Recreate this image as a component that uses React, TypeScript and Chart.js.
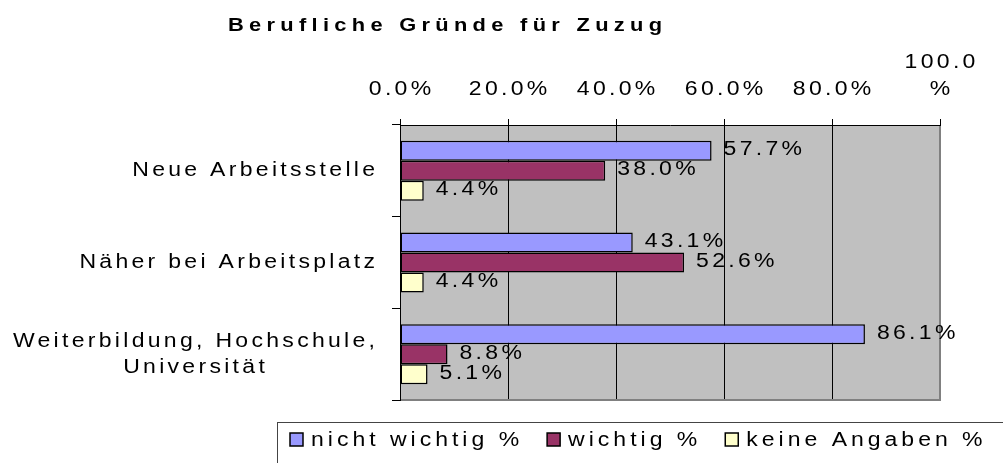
import React, { useEffect, useRef } from 'react';
import { Chart, registerables } from 'chart.js';

Chart.register(...registerables);

const title = 'Berufliche Gründe für Zuzug';
const categories = ['Neue Arbeitsstelle', 'Näher bei Arbeitsplatz', 'Weiterbildung, Hochschule,\nUniversität'];
const seriesNames = ['nicht wichtig %', 'wichtig %', 'keine Angaben %'];
const nichtWichtig = [57.7, 43.1, 86.1];
const wichtig = [38.0, 52.6, 8.8];
const keineAngaben = [4.4, 4.4, 5.1];
const seriesColors = ['#9999FF', '#993366', '#FFFFCC'];
const xTickLabels = ['0.0%', '20.0%', '40.0%', '60.0%', '80.0%', '100.0\n%'];
const xMin = 0;
const xMax = 100;
const xStep = 20;

const FONT = "'Liberation Sans', Arial, Helvetica, sans-serif";
const FS = 20;
const LS = 3.3;
const SX = 1.15;

function drawText(
  ctx: CanvasRenderingContext2D,
  text: string,
  x: number,
  y: number,
  align: 'left' | 'center' | 'right',
  font: string,
  ls: number,
  sx: number = SX
): number {
  ctx.save();
  ctx.font = font;
  (ctx as any).letterSpacing = ls / sx + 'px';
  const w = ctx.measureText(text).width;
  const vis = (w - ls / sx) * sx;
  let left = x;
  if (align === 'center') left = x - vis / 2;
  else if (align === 'right') left = x - vis;
  ctx.translate(left, y);
  ctx.scale(sx, 1);
  ctx.textAlign = 'left';
  ctx.textBaseline = 'middle';
  ctx.fillStyle = '#000';
  ctx.fillText(text, 0, 0);
  ctx.restore();
  return vis;
}

export default function App() {
  const ref = useRef<HTMLCanvasElement>(null);

  useEffect(() => {
    document.body.style.margin = '0';
    const canvas = ref.current!;
    const font = `${FS}px ${FONT}`;

    const background = {
      id: 'bg',
      beforeDraw(c: any) {
        const { ctx, chartArea: a } = c;
        ctx.save();
        ctx.fillStyle = '#C0C0C0';
        ctx.fillRect(a.left, a.top, a.right - a.left, a.bottom - a.top);
        ctx.restore();
      },
    };

    const frame = {
      id: 'frame',
      beforeDatasetsDraw(c: any) {
        const { ctx, chartArea: a } = c;
        ctx.save();
        ctx.strokeStyle = '#808080';
        ctx.lineWidth = 2;
        ctx.beginPath();
        ctx.moveTo(a.right, a.top + 1);
        ctx.lineTo(a.right, a.bottom);
        ctx.lineTo(a.left + 1, a.bottom);
        ctx.stroke();
        ctx.restore();
      },
    };

    const dataLabels = {
      id: 'dataLabels',
      afterDatasetsDraw(c: any) {
        const ctx = c.ctx;
        c.data.datasets.forEach((ds: any, di: number) => {
          const meta = c.getDatasetMeta(di);
          meta.data.forEach((el: any, i: number) => {
            const v = ds.data[i] as number;
            drawText(ctx, v.toFixed(1) + '%', el.x + 12, el.y - 1, 'left', font, LS);
          });
        });
      },
    };

    const extras = {
      id: 'extras',
      afterDraw(c: any) {
        const ctx = c.ctx;
        const yScale = c.scales.y;
        const xScale = c.scales.x;

        // title
        drawText(ctx, title, 445, 26, 'center', `bold 19px ${FONT}`, 5.3);

        // x tick labels
        xScale.ticks.forEach((t: any) => {
          const i = Math.round((Number(t.value) - xMin) / xStep);
          const s = xTickLabels[i];
          if (s === undefined) return;
          const px = xScale.getPixelForValue(t.value);
          const lines = s.split('\n');
          lines.forEach((l, j) => {
            drawText(ctx, l, px, 89 - (lines.length - 1 - j) * 27, 'center', font, LS);
          });
        });

        // category labels
        const lineH = 26;
        const right = 375;
        categories.forEach((cat, i) => {
          const lines = cat.split('\n');
          ctx.save();
          ctx.font = font;
          (ctx as any).letterSpacing = LS / SX + 'px';
          const widths = lines.map((l) => (ctx.measureText(l).width - LS / SX) * SX);
          ctx.restore();
          const maxW = Math.max(...widths);
          const cx = right - maxW / 2;
          const cy = yScale.getPixelForValue(i);
          lines.forEach((l, j) => {
            drawText(ctx, l, cx, cy + (j - (lines.length - 1) / 2) * lineH, 'center', font, LS);
          });
        });

        // legend
        ctx.save();
        ctx.strokeStyle = '#444';
        ctx.lineWidth = 1;
        ctx.strokeRect(277.5, 422.5, 800, 100);
        ctx.restore();
        let x = 290;
        c.data.datasets.forEach((ds: any) => {
          ctx.save();
          ctx.fillStyle = ds.backgroundColor;
          ctx.fillRect(x, 433, 13, 13);
          ctx.strokeStyle = '#000';
          ctx.lineWidth = 1.5;
          ctx.strokeRect(x, 433, 13, 13);
          ctx.restore();
          x += 21;
          const w = drawText(ctx, ds.label, x, 440, 'left', font, 4);
          x += w + 28;
        });
      },
    };

    const chart = new Chart(canvas, {
      type: 'bar',
      data: {
        labels: categories,
        datasets: [
          { label: seriesNames[0], data: nichtWichtig, backgroundColor: seriesColors[0] },
          { label: seriesNames[1], data: wichtig, backgroundColor: seriesColors[1] },
          { label: seriesNames[2], data: keineAngaben, backgroundColor: seriesColors[2] },
        ].map((d) => ({
          ...d,
          borderColor: '#000',
          borderWidth: 1.5,
          borderSkipped: false,
          categoryPercentage: 0.655,
          barPercentage: 1,
        })),
      },
      options: {
        indexAxis: 'y',
        responsive: false,
        animation: false,
        devicePixelRatio: 1,
        layout: { padding: { left: 0, right: 63, top: 0, bottom: 63 } },
        plugins: {
          legend: { display: false },
          title: { display: false },
          tooltip: { enabled: false },
        },
        scales: {
          x: {
            type: 'linear',
            position: 'top',
            min: xMin,
            max: xMax,
            ticks: { stepSize: xStep, display: false },
            grid: { color: '#000', lineWidth: 1, tickLength: 6, drawTicks: true },
            border: { display: true, color: '#000', width: 1 },
            afterFit: (s: any) => {
              s.height = 125;
            },
          },
          y: {
            type: 'category',
            offset: true,
            ticks: { display: false },
            grid: { offset: true, drawOnChartArea: false, color: '#000', tickLength: 8 },
            border: { display: true, color: '#000', width: 1 },
            afterFit: (s: any) => {
              s.width = 400;
            },
          },
        },
      },
      plugins: [background, frame, dataLabels, extras],
    } as any);

    return () => chart.destroy();
  }, []);

  return <canvas ref={ref} width={1003} height={463} style={{ display: 'block' }} />;
}
